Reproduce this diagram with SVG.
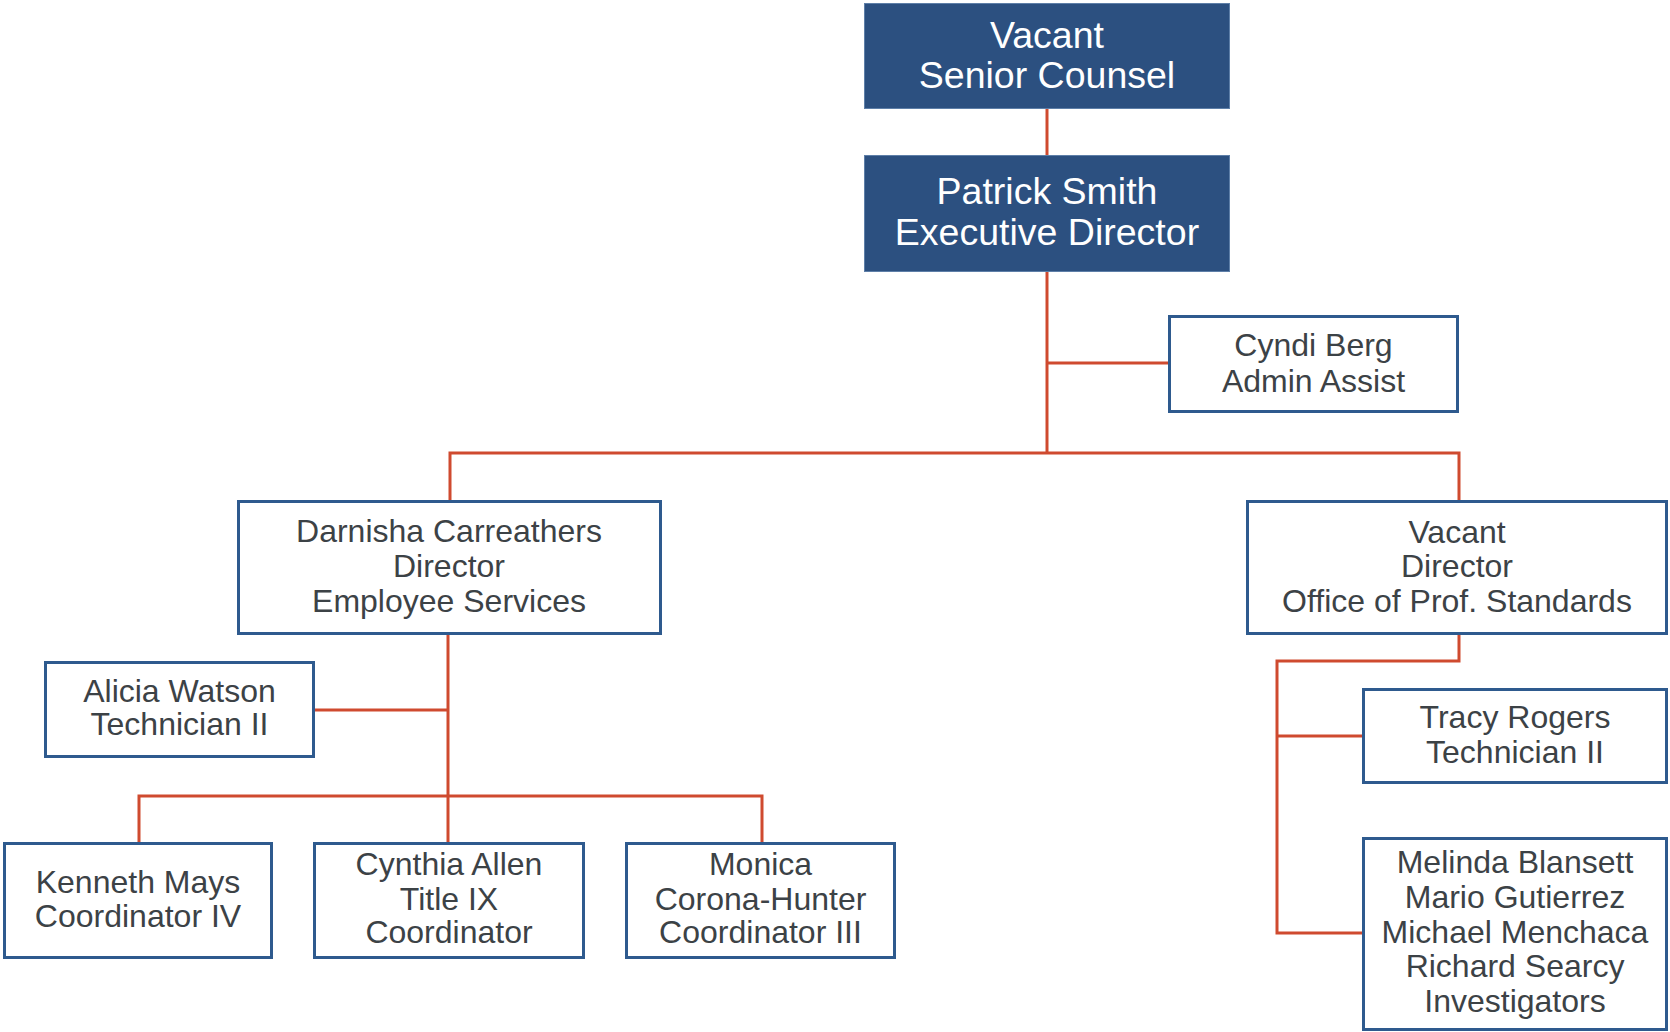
<svg xmlns="http://www.w3.org/2000/svg" width="1670" height="1032" viewBox="0 0 1670 1032">
<style>
.top{fill:#2C5080;stroke:#5E7FA8;stroke-width:1}
.box{fill:#FFFFFF;stroke:#2E5A8E;stroke-width:3}
.tw{font-family:"Liberation Sans",Arial,sans-serif;font-size:37.5px;fill:#FFFFFF;text-anchor:middle}
.tb{font-family:"Liberation Sans",Arial,sans-serif;font-size:32px;fill:#3C4246;text-anchor:middle}
.con{fill:none;stroke:#CF4A2F;stroke-width:3}
</style>
<rect width="1670" height="1032" fill="#FFFFFF"/>
<g id="connectors">
<path class="con" d="M1047,109V155"/>
<path class="con" d="M1047,272V453"/>
<path class="con" d="M1047,363H1168"/>
<path class="con" d="M450,500V453H1459V500"/>
<path class="con" d="M448,635V842"/>
<path class="con" d="M314,710H448"/>
<path class="con" d="M139,842V796H762V842"/>
<path class="con" d="M1459,635V661H1277V933H1362"/>
<path class="con" d="M1277,736H1362"/>
</g>
<g id="senior-counsel">
<rect class="top" x="864.5" y="3.5" width="365" height="105"/>
<text class="tw" x="1047" y="48">Vacant</text>
<text class="tw" x="1047" y="88">Senior Counsel</text>
</g>
<g id="executive-director">
<rect class="top" x="864.5" y="155.5" width="365" height="116"/>
<text class="tw" x="1047" y="204">Patrick Smith</text>
<text class="tw" x="1047" y="245">Executive Director</text>
</g>
<g id="admin-assist">
<rect class="box" x="1169.5" y="316.5" width="288" height="95"/>
<text class="tb" x="1313.5" y="356">Cyndi Berg</text>
<text class="tb" x="1313.5" y="392">Admin Assist</text>
</g>
<g id="director-employee-services">
<rect class="box" x="238.5" y="501.5" width="422" height="132"/>
<text class="tb" x="449" y="542">Darnisha Carreathers</text>
<text class="tb" x="449" y="577">Director</text>
<text class="tb" x="449" y="612">Employee Services</text>
</g>
<g id="director-prof-standards">
<rect class="box" x="1247.5" y="501.5" width="419" height="132"/>
<text class="tb" x="1457" y="543">Vacant</text>
<text class="tb" x="1457" y="577">Director</text>
<text class="tb" x="1457" y="612">Office of Prof. Standards</text>
</g>
<g id="alicia-watson">
<rect class="box" x="45.5" y="662.5" width="268" height="94"/>
<text class="tb" x="179.5" y="702">Alicia Watson</text>
<text class="tb" x="179.5" y="735">Technician II</text>
</g>
<g id="kenneth-mays">
<rect class="box" x="4.5" y="843.5" width="267" height="114"/>
<text class="tb" x="138" y="893">Kenneth Mays</text>
<text class="tb" x="138" y="927">Coordinator IV</text>
</g>
<g id="cynthia-allen">
<rect class="box" x="314.5" y="843.5" width="269" height="114"/>
<text class="tb" x="449" y="875">Cynthia Allen</text>
<text class="tb" x="449" y="910">Title IX</text>
<text class="tb" x="449" y="943">Coordinator</text>
</g>
<g id="monica-corona-hunter">
<rect class="box" x="626.5" y="843.5" width="268" height="114"/>
<text class="tb" x="760.5" y="875">Monica</text>
<text class="tb" x="760.5" y="910">Corona-Hunter</text>
<text class="tb" x="760.5" y="943">Coordinator III</text>
</g>
<g id="tracy-rogers">
<rect class="box" x="1363.5" y="689.5" width="303" height="93"/>
<text class="tb" x="1515" y="728">Tracy Rogers</text>
<text class="tb" x="1515" y="763">Technician II</text>
</g>
<g id="investigators">
<rect class="box" x="1363.5" y="838.5" width="303" height="191"/>
<text class="tb" x="1515" y="873">Melinda Blansett</text>
<text class="tb" x="1515" y="908">Mario Gutierrez</text>
<text class="tb" x="1515" y="943">Michael Menchaca</text>
<text class="tb" x="1515" y="977">Richard Searcy</text>
<text class="tb" x="1515" y="1012">Investigators</text>
</g>
</svg>
